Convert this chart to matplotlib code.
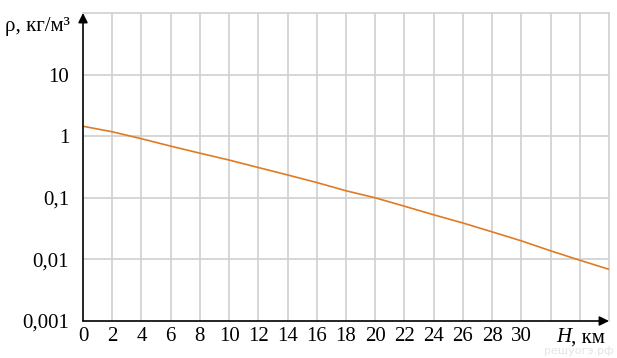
import matplotlib.pyplot as plt
import numpy as np

# высота, км и плотность воздуха, кг/м^3
height_km = [0, 2, 4, 6, 8, 10, 12, 14, 16, 18, 20, 22, 24, 26, 28, 30, 32, 34, 36]
density = [1.45, 1.18, 0.91, 0.69, 0.53, 0.41, 0.31, 0.235, 0.177, 0.13,
           0.10, 0.073, 0.053, 0.039, 0.028, 0.020, 0.0138, 0.0097, 0.0069]

x_ticks = [0, 2, 4, 6, 8, 10, 12, 14, 16, 18, 20, 22, 24, 26, 28, 30]
y_ticks = [0.001, 0.01, 0.1, 1, 10]
y_tick_labels = ['0,001', '0,01', '0,1', '1', '10']

serif = 'Liberation Serif'
plt.rcParams['font.family'] = 'serif'
plt.rcParams['font.serif'] = [serif, 'DejaVu Serif']

fig = plt.figure(figsize=(6.17, 3.58), dpi=100)
ax = fig.add_axes([83 / 617, 1 - 321 / 358, (609 - 83) / 617, (321 - 13) / 358])

ax.set_yscale('log')
ax.set_xlim(0, 36)
ax.set_ylim(0.001, 100)

# сетка
for xv in np.arange(2, 36, 2):
    ax.axvline(xv, color='#d0d0d0', lw=1.2, zorder=0)
for yv in [0.01, 0.1, 1, 10]:
    ax.axhline(yv, color='#d0d0d0', lw=1.2, zorder=0)

ax.plot(height_km, density, color='#e07b24', lw=1.2, zorder=3)

for side in ['top', 'right']:
    ax.spines[side].set_color('#d0d0d0')
    ax.spines[side].set_linewidth(1.2)
for side in ['left', 'bottom']:
    ax.spines[side].set_visible(False)

# оси со стрелками
ax.annotate('', xy=(36, 0.001), xytext=(0, 0.001),
            arrowprops=dict(arrowstyle='-|>', color='black', lw=1.2,
                            mutation_scale=14, shrinkA=0, shrinkB=0),
            annotation_clip=False, zorder=5)
ax.annotate('', xy=(0, 100), xytext=(0, 0.001),
            arrowprops=dict(arrowstyle='-|>', color='black', lw=1.2,
                            mutation_scale=14, shrinkA=0, shrinkB=0),
            annotation_clip=False, zorder=5)

ax.set_xticks(x_ticks)
ax.set_xticklabels([str(v) for v in x_ticks], fontsize=15, family=serif)
ax.set_yticks(y_ticks)
ax.set_yticklabels(y_tick_labels, fontsize=15, family=serif)
ax.yaxis.set_minor_locator(plt.NullLocator())
ax.tick_params(length=0, pad=10)
ax.tick_params(axis='x', pad=4)

fig.text(5 / 617, 1 - 27 / 358, 'ρ, кг/м³', fontsize=15, va='center',
         ha='left', family=serif)
fig.text(571 / 617, 1 - 338 / 358, 'H', fontsize=15, va='center', ha='right',
         style='italic', family=serif)
fig.text(571 / 617, 1 - 338 / 358, ', км', fontsize=15, va='center',
         ha='left', family=serif)
fig.text(614 / 617, 1 - 351 / 358, 'решуогэ.рф', fontsize=8, va='center',
         ha='right', color='#e4e4e4', family='DejaVu Sans')

fig.savefig('out.png', dpi=100)
